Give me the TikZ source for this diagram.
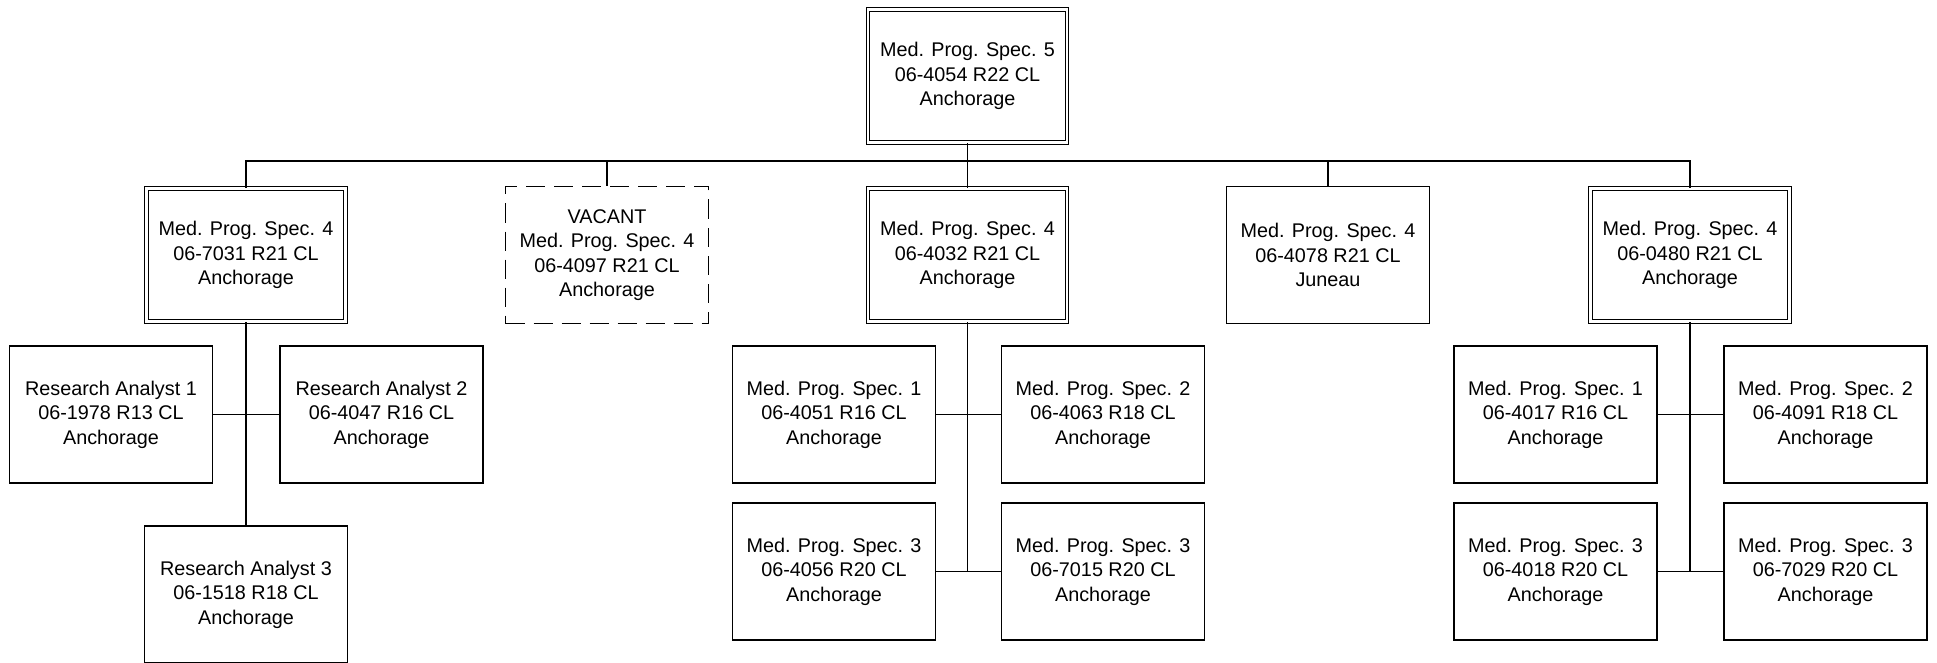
\documentclass[tikz,border=0pt]{standalone}
\usepackage{fontspec}
\setmainfont{Liberation Sans}
\usetikzlibrary{calc,positioning}

\begin{document}
\begin{tikzpicture}[x=1pt,y=-1pt,line width=1.3pt,
  posbox/.style={draw,rectangle,align=center,minimum width=203pt,minimum height=137pt,inner sep=0pt,font=\fontsize{19.8}{24.5}\selectfont},
  supbox/.style={posbox,double,double distance=2.6pt,line width=1.1pt,minimum width=199pt,minimum height=133pt},
  vacbox/.style={posbox,dash pattern=on 19pt off 9pt},
  wire/.style={line width=1.3pt}]
  \useasboundingbox (0,0) rectangle (1937,663);
  % top
  \node[supbox] (t1) at (967.5,76) {Med. Prog. Spec. 5\\06-4054 R22 CL\\Anchorage};
  % second row
  \node[supbox] (m1) at (246,255) {Med. Prog. Spec. 4\\06-7031 R21 CL\\Anchorage};
  \node[vacbox] (m2) at (607,255) {VACANT\\Med. Prog. Spec. 4\\06-4097 R21 CL\\Anchorage};
  \node[supbox] (m3) at (967.5,255) {Med. Prog. Spec. 4\\06-4032 R21 CL\\Anchorage};
  \node[posbox] (m4) at (1328,255) {Med. Prog. Spec. 4\\06-4078 R21 CL\\Juneau};
  \node[supbox] (m5) at (1690,255) {Med. Prog. Spec. 4\\06-0480 R21 CL\\Anchorage};
  % research analysts
  \node[posbox] (a1) at (111,414.5) {Research Analyst 1\\06-1978 R13 CL\\Anchorage};
  \node[posbox] (a2) at (381.5,414.5) {Research Analyst 2\\06-4047 R16 CL\\Anchorage};
  \node[posbox] (a3) at (246,594.5) {Research Analyst 3\\06-1518 R18 CL\\Anchorage};
  % under m3
  \node[posbox] (b1) at (834,414.5) {Med. Prog. Spec. 1\\06-4051 R16 CL\\Anchorage};
  \node[posbox] (b2) at (1103,414.5) {Med. Prog. Spec. 2\\06-4063 R18 CL\\Anchorage};
  \node[posbox] (b3) at (834,571.5) {Med. Prog. Spec. 3\\06-4056 R20 CL\\Anchorage};
  \node[posbox] (b4) at (1103,571.5) {Med. Prog. Spec. 3\\06-7015 R20 CL\\Anchorage};
  % under m5
  \node[posbox] (c1) at (1555.5,414.5) {Med. Prog. Spec. 1\\06-4017 R16 CL\\Anchorage};
  \node[posbox] (c2) at (1825.5,414.5) {Med. Prog. Spec. 2\\06-4091 R18 CL\\Anchorage};
  \node[posbox] (c3) at (1555.5,571.5) {Med. Prog. Spec. 3\\06-4018 R20 CL\\Anchorage};
  \node[posbox] (c4) at (1825.5,571.5) {Med. Prog. Spec. 3\\06-7029 R20 CL\\Anchorage};

  \coordinate (bus) at (967.5,161);
  \draw[wire] (t1.south) -- (bus);
  \draw[wire] (m1.north) |- (bus) -| (m5.north);
  \foreach \n in {m2,m3,m4} \draw[wire] (\n.north) -- (\n.north |- bus);

  \draw[wire] (m1.south) -- (a3.north);
  \draw[wire] (a1.east) -- (a2.west);
  \draw[wire] (m3.south) -- (m3.south |- b3.east);
  \draw[wire] (b1.east) -- (b2.west);
  \draw[wire] (b3.east) -- (b4.west);
  \draw[wire] (m5.south) -- (m5.south |- c3.east);
  \draw[wire] (c1.east) -- (c2.west);
  \draw[wire] (c3.east) -- (c4.west);
\end{tikzpicture}
\end{document}
